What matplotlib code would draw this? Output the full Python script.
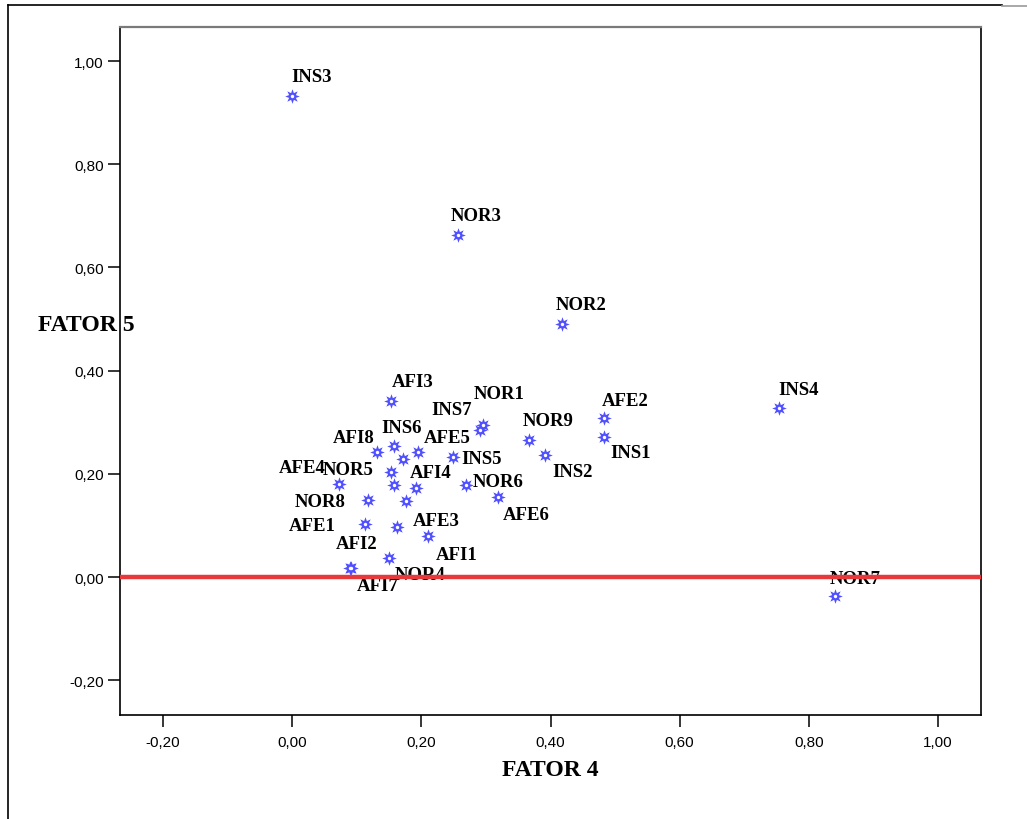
import matplotlib
matplotlib.use("Agg")
import matplotlib.pyplot as plt
from matplotlib.lines import Line2D

# ---- data ----
names = ["INS3", "NOR3", "NOR2", "INS4", "NOR7", "AFE2", "INS1", "NOR9", "INS2",
         "NOR1", "INS7", "INS5", "NOR6", "AFE6", "AFI3", "INS6", "AFI8", "AFE5",
         "", "NOR5", "AFE4", "", "AFI4", "NOR8", "", "AFE1", "AFE3", "AFI1",
         "NOR4", "AFI2", "AFI7"]
fator4 = [0.00, 0.257, 0.418, 0.754, 0.841, 0.483, 0.483, 0.367, 0.392,
          0.295, 0.291, 0.249, 0.269, 0.318, 0.153, 0.158, 0.132, 0.195,
          0.172, 0.153, 0.073, 0.157, 0.191, 0.117, 0.176, 0.112, 0.162, 0.211,
          0.150, 0.091, 0.090]
fator5 = [0.932, 0.663, 0.490, 0.328, -0.037, 0.309, 0.272, 0.266, 0.236,
          0.295, 0.284, 0.232, 0.179, 0.156, 0.342, 0.254, 0.242, 0.242,
          0.228, 0.203, 0.181, 0.178, 0.172, 0.149, 0.147, 0.102, 0.096, 0.079,
          0.036, 0.018, 0.017]
xticks = [-0.20, 0.00, 0.20, 0.40, 0.60, 0.80, 1.00]
xtick_labels = ["-0,20", "0,00", "0,20", "0,40", "0,60", "0,80", "1,00"]
yticks = [-0.20, 0.00, 0.20, 0.40, 0.60, 0.80, 1.00]
ytick_labels = ["-0,20", "0,00", "0,20", "0,40", "0,60", "0,80", "1,00"]
ref_line = 0.0

# label offsets in pixels (text left edge / vertical centre relative to marker)
label_offsets = {
    "INS3": (-1, 20), "NOR3": (-7, 19), "NOR2": (-6, 20), "INS4": (-1, 18),
    "NOR7": (-6, 18), "AFE2": (-2, 17), "INS1": (6, -16), "NOR9": (-6, 19),
    "INS2": (7, -16), "NOR1": (-9, 31), "INS7": (-49, 21), "INS5": (8, -1),
    "NOR6": (7, 3), "AFE6": (5, -18), "AFI3": (1, 19), "INS6": (-13, 18),
    "AFI8": (-45, 15), "AFE5": (6, 15), "NOR5": (-68, 3), "AFE4": (-61, 16),
    "AFI4": (-6, 16), "NOR8": (-73, -1), "AFE1": (-76, -1), "AFE3": (16, 7),
    "AFI1": (7, -18), "NOR4": (6, -16), "AFI2": (-15, 24), "AFI7": (6, -17),
}

W, H = 1027, 820
fig = plt.figure(figsize=(W / 100, H / 100), dpi=100)
ax = fig.add_axes([120 / W, 1 - 716 / H, (981 - 120) / W, (716 - 28) / H])

ax.set_xlim(-0.2667, 1.0667)
ax.set_ylim(-0.2674, 1.0659)

marker_color = "#4f4fff"
ax.scatter(fator4, fator5, marker=(8, 1, 0), s=110, color=marker_color,
           linewidths=0, zorder=3)
ax.scatter(fator4, fator5, marker="o", s=6, color="white", linewidths=0, zorder=4)

for n, x, y in zip(names, fator4, fator5):
    if not n:
        continue
    dx, dy = label_offsets[n]
    ax.annotate(n, (x, y), xytext=(dx, dy), textcoords="offset pixels",
                ha="left", va="center", fontsize=13.5, fontweight="bold",
                family="Liberation Serif", color="black", zorder=5)

ax.axhline(ref_line, color="#e8383b", lw=3.2, zorder=6)

ax.set_xticks(xticks)
ax.set_xticklabels(xtick_labels)
ax.set_yticks(yticks)
ax.set_yticklabels(ytick_labels)
ax.tick_params(direction="out", length=8.6, width=1.1, labelsize=11,
               color="black")
ax.tick_params(axis="x", pad=6)
ax.tick_params(axis="y", pad=3)
for lab in ax.get_xticklabels() + ax.get_yticklabels():
    lab.set_family("Liberation Sans")

for s in ["left", "bottom", "right"]:
    ax.spines[s].set_color("black")
    ax.spines[s].set_linewidth(1.2)
ax.spines["top"].set_color("#7a7a7a")
ax.spines["top"].set_linewidth(1.6)

fig.text(550.5 / W, 1 - 771 / H, "FATOR 4", ha="center", va="center",
         fontsize=17, fontweight="bold", family="Liberation Serif")
fig.text(38 / W, 1 - 326 / H, "FATOR 5", ha="left", va="center",
         fontsize=17, fontweight="bold", family="Liberation Serif")

# outer frame lines
fig.add_artist(Line2D([8 / W, 8 / W], [0, 1 - 6 / H], color="black", lw=1.2,
                      transform=fig.transFigure))
fig.add_artist(Line2D([8 / W, 1002 / W], [1 - 6 / H, 1 - 6 / H], color="black",
                      lw=1.2, transform=fig.transFigure))
fig.add_artist(Line2D([1002 / W, 1.0], [1 - 7 / H, 1 - 7 / H], color="#9a9a9a",
                      lw=1.2, transform=fig.transFigure))

fig.savefig("out.png", dpi=100)
